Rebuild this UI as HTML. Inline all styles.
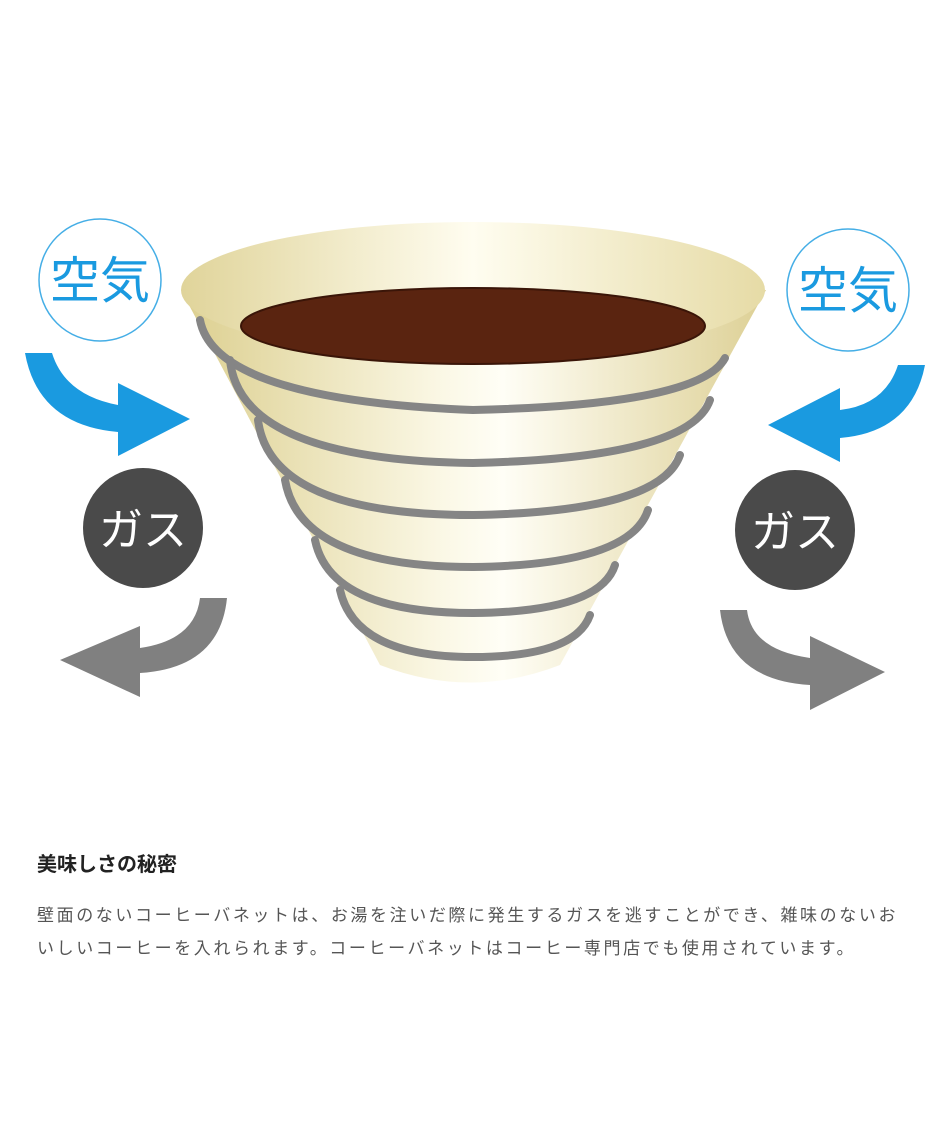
<!DOCTYPE html>
<html><head><meta charset="utf-8"><style>
body{margin:0;background:#fff;width:950px;height:1140px;overflow:hidden;font-family:"Liberation Sans","Noto Sans CJK JP",sans-serif}
svg{position:absolute;left:0;top:0}
.h{position:absolute;left:37px;top:848px;font-size:20px;font-weight:bold;color:#222}
.p{position:absolute;left:37px;top:899px;font-size:17px;line-height:33px;color:#555;white-space:nowrap;letter-spacing:2.6px}
</style></head><body>
<svg width="950" height="800" viewBox="0 0 950 800">
<defs>
<linearGradient id="g" x1="0" x2="1" y1="0" y2="0">
<stop offset="0" stop-color="#dccf8f"/><stop offset="0.45" stop-color="#fbf8e6"/><stop offset="0.55" stop-color="#fffef6"/><stop offset="1" stop-color="#ddd095"/></linearGradient>
<linearGradient id="g2" x1="0" x2="1"><stop offset="0" stop-color="#e0d49a"/><stop offset="0.5" stop-color="#fffdf0"/><stop offset="1" stop-color="#e6dba6"/></linearGradient>
</defs>
<path d="M181,290 L380,665 Q470,700 560,665 L766,290 Z" fill="url(#g)"/>
<ellipse cx="473" cy="290" rx="292" ry="68" fill="url(#g2)"/>
<ellipse cx="473" cy="326" rx="232" ry="38" fill="#5a2410" stroke="#3a1508" stroke-width="2"/>
<g fill="none" stroke="#858585" stroke-width="8" stroke-linecap="round">
<path d="M200,320 Q215,400 473,410 Q700,405 725,358"/>
<path d="M230,360 Q240,460 473,463 Q690,458 710,400"/>
<path d="M258,420 Q270,515 473,515 Q660,512 680,455"/>
<path d="M285,480 Q300,567 473,567 Q630,565 648,510"/>
<path d="M315,540 Q330,613 473,613 Q600,612 615,565"/>
<path d="M340,590 Q355,657 473,657 Q575,657 590,615"/>
</g>
<circle cx="100" cy="280" r="61" fill="#fff" stroke="#45aee6" stroke-width="1.5"/>
<text x="100" y="298" font-size="50" fill="#1a9ae0" text-anchor="middle" font-family="Noto Sans CJK JP,sans-serif">空気</text>
<circle cx="848" cy="290" r="61" fill="#fff" stroke="#45aee6" stroke-width="1.5"/>
<text x="848" y="308" font-size="50" fill="#1a9ae0" text-anchor="middle" font-family="Noto Sans CJK JP,sans-serif">空気</text>
<circle cx="143" cy="528" r="60" fill="#4a4a4a"/>
<text x="143" y="545" font-size="44" fill="#fff" text-anchor="middle" font-family="Noto Sans CJK JP,sans-serif">ガス</text>
<circle cx="795" cy="530" r="60" fill="#4a4a4a"/>
<text x="795" y="547" font-size="44" fill="#fff" text-anchor="middle" font-family="Noto Sans CJK JP,sans-serif">ガス</text>
<path d="M25,353 L52,353 Q65,395 118,405 L118,383 L190,419 L118,456 L118,432 Q38,425 25,353 Z" fill="#1a9ae0"/>
<path d="M925,365 L898,365 Q885,405 840,410 L840,388 L768,425 L840,462 L840,438 Q912,432 925,365 Z" fill="#1a9ae0"/>
<path d="M227,598 L200,598 Q195,640 140,648 L140,626 L60,660 L140,697 L140,673 Q220,668 227,598 Z" fill="#808080"/>
<path d="M720,610 L747,610 Q752,650 810,658 L810,636 L885,672 L810,710 L810,685 Q728,680 720,610 Z" fill="#808080"/>
</svg>
<div class="h">美味しさの秘密</div>
<div class="p">壁面のないコーヒーバネットは、お湯を注いだ際に発生するガスを逃すことができ、雑味のないお<br>いしいコーヒーを入れられます。コーヒーバネットはコーヒー専門店でも使用されています。</div>
</body></html>
